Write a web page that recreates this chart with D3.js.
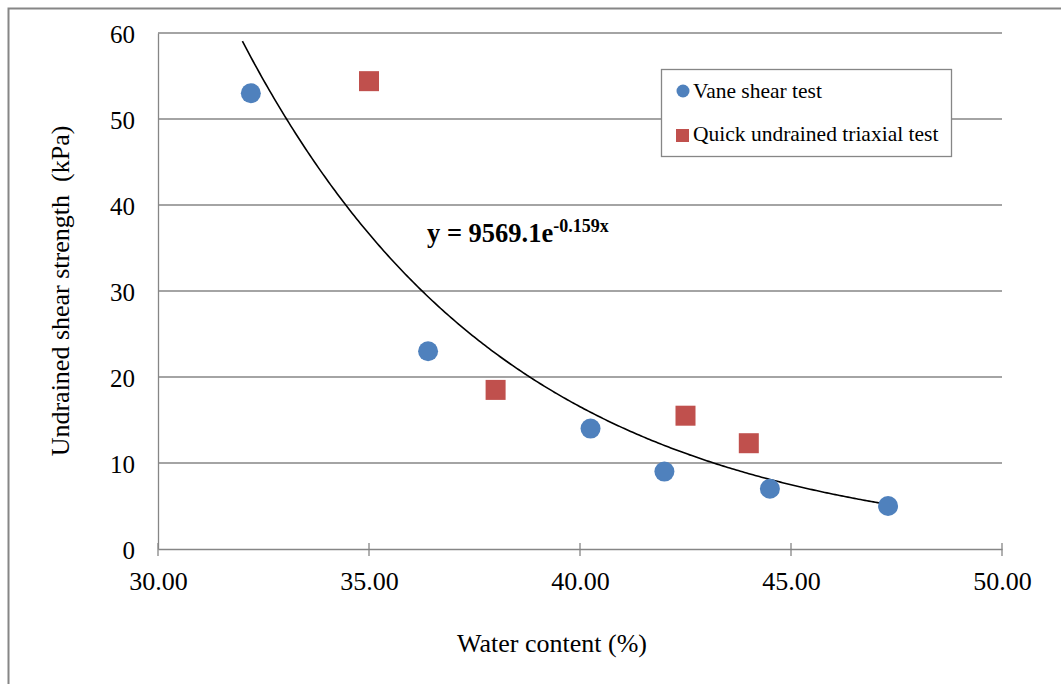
<!DOCTYPE html>
<html>
<head>
<meta charset="utf-8">
<script src="https://cdn.jsdelivr.net/npm/d3@7"></script>
<style>
  html, body { margin: 0; padding: 0; background: #fff; }
  svg { display: block; }
  svg text { font-family: "Liberation Serif", "Times New Roman", serif; }
</style>
</head>
<body>
<svg id="chart" width="1061" height="684"></svg>
<script>
// Vane shear test results: water content (%) and undrained shear strength (kPa)
const vaneWater    = [32.2, 36.4, 40.25, 42.0, 44.5, 47.3];
const vaneStrength = [53.0, 23.0, 14.0, 9.0, 7.0, 5.0];

// Quick undrained triaxial test results
const triaxWater    = [35.0, 38.0, 42.5, 44.0];
const triaxStrength = [54.4, 18.5, 15.5, 12.3];

// Exponential trendline y = a * e^(b x), fitted over the vane data range
const trendCoef = 9569.1;
const trendExp = -0.159;
const trendRange = [32.0, 47.3];

const xTicks = [30, 35, 40, 45, 50];
const yTicks = [0, 10, 20, 30, 40, 50, 60];

const svg = d3.select("#chart");
const plotLeft = 158, plotRight = 1002, plotTop = 33, plotBottom = 549;

const x = d3.scaleLinear().domain([30, 50]).range([plotLeft, plotRight]);
const y = d3.scaleLinear().domain([0, 60]).range([plotBottom, plotTop]);

const grey = "#868686";
const serif = "Liberation Serif, Times New Roman, serif";

// outer chart frame
svg.append("rect")
  .attr("x", 8.5).attr("y", 8.5)
  .attr("width", 1070).attr("height", 700)
  .attr("fill", "none").attr("stroke", grey).attr("stroke-width", 2);

// horizontal gridlines
svg.append("g")
  .selectAll("line")
  .data(yTicks.filter(d => d > 0))
  .join("line")
  .attr("x1", plotLeft).attr("x2", plotRight)
  .attr("y1", d => y(d)).attr("y2", d => y(d))
  .attr("stroke", grey).attr("stroke-width", 1.3);

// x axis
const xAxis = svg.append("g")
  .attr("transform", `translate(0,${plotBottom})`)
  .call(d3.axisBottom(x).tickValues(xTicks).tickFormat(d3.format(".2f")).tickSize(0).tickPadding(22));
xAxis.attr("font-family", serif).attr("font-size", 26);
xAxis.select(".domain").attr("stroke", grey).attr("stroke-width", 1.3);
xAxis.selectAll("text").attr("fill", "#000").attr("dy", null).attr("y", 41);
// small tick marks crossing the axis line
svg.append("g").selectAll("line").data(xTicks).join("line")
  .attr("x1", d => x(d)).attr("x2", d => x(d))
  .attr("y1", plotBottom - 6).attr("y2", plotBottom + 7)
  .attr("stroke", grey).attr("stroke-width", 1.3);

// y axis
const yAxis = svg.append("g")
  .attr("transform", `translate(${plotLeft},0)`)
  .call(d3.axisLeft(y).tickValues(yTicks).tickSize(0).tickPadding(23));
yAxis.attr("font-family", serif).attr("font-size", 25);
yAxis.select(".domain").attr("stroke", grey).attr("stroke-width", 1.3);
yAxis.selectAll("text").attr("fill", "#000").attr("dy", "0.36em");

// axis titles
svg.append("text")
  .attr("x", 552).attr("y", 652)
  .attr("text-anchor", "middle").attr("font-size", 26).attr("font-family", serif)
  .text("Water content (%)");

svg.append("text")
  .attr("transform", "translate(69,291) rotate(-90)")
  .attr("text-anchor", "middle").attr("font-size", 26).attr("font-family", serif)
  .attr("xml:space", "preserve")
  .text("Undrained shear strength  (kPa)");

// trendline
const trendPts = d3.range(trendRange[0], trendRange[1] + 1e-9, 0.05).map(w => [w, trendCoef * Math.exp(trendExp * w)]);
trendPts.push([trendRange[1], trendCoef * Math.exp(trendExp * trendRange[1])]);
svg.append("path")
  .datum(trendPts)
  .attr("fill", "none").attr("stroke", "#000").attr("stroke-width", 1.6)
  .attr("d", d3.line().x(d => x(d[0])).y(d => y(d[1])));

// vane shear points
svg.append("g").selectAll("circle")
  .data(vaneWater.map((w, i) => [w, vaneStrength[i]]))
  .join("circle")
  .attr("cx", d => x(d[0])).attr("cy", d => y(d[1]))
  .attr("r", 10).attr("fill", "#4F81BD");

// triaxial points
svg.append("g").selectAll("rect")
  .data(triaxWater.map((w, i) => [w, triaxStrength[i]]))
  .join("rect")
  .attr("x", d => x(d[0]) - 10).attr("y", d => y(d[1]) - 10)
  .attr("width", 20).attr("height", 20).attr("fill", "#C0504D");

// trendline equation
const eq = svg.append("text")
  .attr("x", 427).attr("y", 242)
  .attr("font-size", 26.5).attr("font-weight", "bold").attr("font-family", serif);
eq.append("tspan").text("y = 9569.1e");
eq.append("tspan").attr("font-size", 18).attr("dy", -10).text("-0.159x");

// legend
const lg = svg.append("g").attr("font-family", serif);
lg.append("rect")
  .attr("x", 661.5).attr("y", 69.5).attr("width", 290).attr("height", 87)
  .attr("fill", "#fff").attr("stroke", grey).attr("stroke-width", 1.3);
lg.append("circle").attr("cx", 683).attr("cy", 91).attr("r", 6.5).attr("fill", "#4F81BD");
lg.append("text").attr("x", 693).attr("y", 98).attr("font-size", 21.5).text("Vane shear test");
lg.append("rect").attr("x", 676).attr("y", 129).attr("width", 13).attr("height", 13).attr("fill", "#C0504D");
lg.append("text").attr("x", 693).attr("y", 141).attr("font-size", 21.5).text("Quick undrained triaxial test");
</script>
</body>
</html>
